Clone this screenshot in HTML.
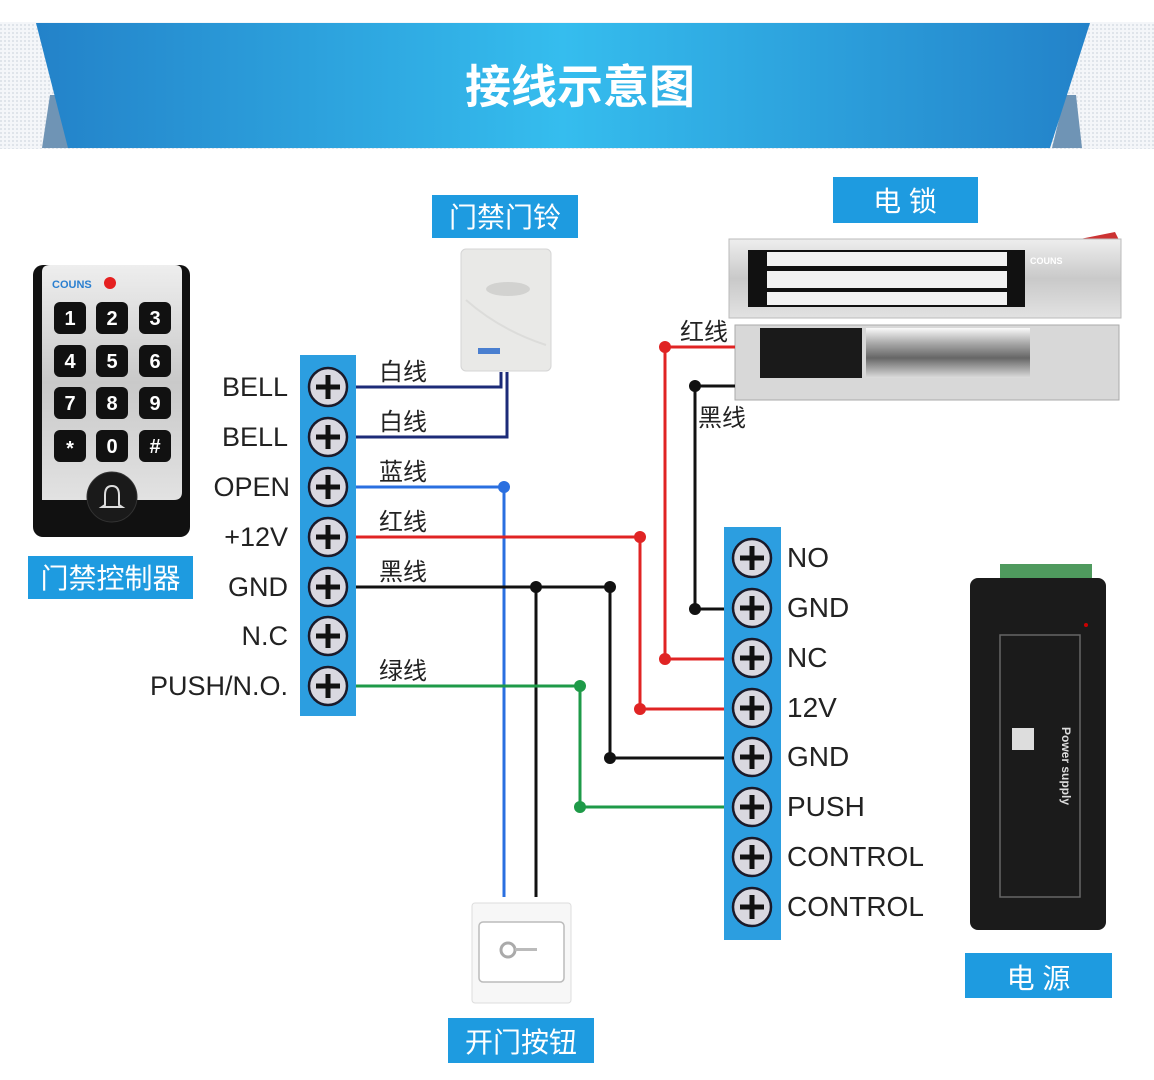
<!DOCTYPE html>
<html><head><meta charset="utf-8"><style>
html,body{margin:0;padding:0;background:#fff}
svg{display:block}
text{font-family:"Liberation Sans","Noto Sans CJK SC",sans-serif}
.cn{font-family:"Liberation Sans","Noto Sans CJK SC",sans-serif}
</style></head><body>
<svg width="1154" height="1080" viewBox="0 0 1154 1080" xmlns="http://www.w3.org/2000/svg">
<defs>
<pattern id="dots" width="4" height="4" patternUnits="userSpaceOnUse"><rect width="4" height="4" fill="#f4f6f9"/><rect width="2" height="2" fill="#dfe4ea"/></pattern>
<linearGradient id="rib" x1="0" x2="1" y1="0" y2="0">
<stop offset="0" stop-color="#2382c9"/><stop offset="0.5" stop-color="#35bdee"/><stop offset="1" stop-color="#2382c9"/></linearGradient>
<linearGradient id="silver" x1="0" x2="0" y1="0" y2="1"><stop offset="0" stop-color="#eeeeee"/><stop offset="0.5" stop-color="#c9c9c9"/><stop offset="1" stop-color="#e2e2e2"/></linearGradient>
<linearGradient id="chrome" x1="0" x2="0" y1="0" y2="1"><stop offset="0" stop-color="#fafafa"/><stop offset="0.3" stop-color="#aaa"/><stop offset="0.6" stop-color="#666"/><stop offset="1" stop-color="#ddd"/></linearGradient>
<g id="scr"><circle r="19" fill="#d9d8e0" stroke="#1a1a2a" stroke-width="2.5"/><rect x="-12" y="-2.5" width="24" height="5" fill="#111"/><rect x="-2.5" y="-12" width="5" height="24" fill="#111"/></g>
</defs>
<!-- header -->
<rect x="0" y="22" width="1154" height="127" fill="url(#dots)"/>
<polygon points="50,95 62,95 70,148 42,148" fill="#6f94b5"/>
<polygon points="1065,95 1076,95 1082,148 1052,148" fill="#6f94b5"/>
<polygon points="36,23 1090,23 1050,148 68,148" fill="url(#rib)"/>
<text x="580" y="103" text-anchor="middle" font-size="46" font-weight="bold" fill="#fff" class="cn">接线示意图</text>

<!-- keypad -->
<rect x="33" y="265" width="157" height="272" rx="10" fill="#111"/>
<path d="M42,272 Q42,265 50,265 L175,265 Q182,265 182,272 L182,492 Q182,500 174,500 L42,500 Z" fill="url(#silver)"/>
<text x="52" y="288" font-size="11" font-weight="bold" fill="#2a7fd0">COUNS</text>
<circle cx="110" cy="283" r="6" fill="#e52020"/>
<g font-size="20" font-weight="bold" fill="#fff" text-anchor="middle">
<g fill="#111"><rect x="54" y="302" width="32" height="32" rx="6"/><rect x="96" y="302" width="32" height="32" rx="6"/><rect x="139" y="302" width="32" height="32" rx="6"/>
<rect x="54" y="345" width="32" height="32" rx="6"/><rect x="96" y="345" width="32" height="32" rx="6"/><rect x="139" y="345" width="32" height="32" rx="6"/>
<rect x="54" y="387" width="32" height="32" rx="6"/><rect x="96" y="387" width="32" height="32" rx="6"/><rect x="139" y="387" width="32" height="32" rx="6"/>
<rect x="54" y="430" width="32" height="32" rx="6"/><rect x="96" y="430" width="32" height="32" rx="6"/><rect x="139" y="430" width="32" height="32" rx="6"/></g>
<text x="70" y="325">1</text><text x="112" y="325">2</text><text x="155" y="325">3</text>
<text x="70" y="368">4</text><text x="112" y="368">5</text><text x="155" y="368">6</text>
<text x="70" y="410">7</text><text x="112" y="410">8</text><text x="155" y="410">9</text>
<text x="70" y="455">*</text><text x="112" y="453">0</text><text x="155" y="453">#</text>
</g>
<circle cx="112" cy="497" r="25" fill="#1a1a1a" stroke="#333"/>
<path d="M105,505 L105,495 Q105,486 112,486 Q119,486 119,495 L119,505 L122,507 L102,507 Z" fill="none" stroke="#ddd" stroke-width="2"/>
<rect x="28" y="556" width="165" height="43" fill="#1e9be0"/>
<text x="110.5" y="588" text-anchor="middle" font-size="28" fill="#fff" class="cn">门禁控制器</text>

<!-- bell -->
<rect x="432" y="195" width="146" height="43" fill="#1e9be0"/>
<text x="505" y="227" text-anchor="middle" font-size="28" fill="#fff" class="cn">门禁门铃</text>
<rect x="461" y="249" width="90" height="122" rx="5" fill="#e9e9e7" stroke="#d5d5d5"/>
<ellipse cx="508" cy="289" rx="22" ry="7" fill="#d2d2d0"/>
<path d="M466,300 Q500,330 546,345" fill="none" stroke="#dcdcda" stroke-width="2"/>
<rect x="478" y="348" width="22" height="6" fill="#4a7fd0"/>

<!-- lock -->
<rect x="833" y="177" width="145" height="46" fill="#1e9be0"/>
<text x="905" y="211" text-anchor="middle" font-size="28" fill="#fff" class="cn">电 锁</text>
<path d="M1075,240 L1115,232 L1120,242 L1080,246Z" fill="#c33"/>
<rect x="729" y="239" width="392" height="79" fill="url(#silver)" stroke="#bbb"/>
<rect x="748" y="250" width="277" height="57" fill="#111"/>
<rect x="767" y="252" width="240" height="14" fill="#f2f2f2"/>
<rect x="767" y="271" width="240" height="17" fill="#f2f2f2"/>
<rect x="767" y="292" width="240" height="13" fill="#f2f2f2"/>
<text x="1030" y="264" font-size="9" font-weight="bold" fill="#fff">COUNS</text>
<rect x="735" y="325" width="384" height="75" fill="#d8d8d8" stroke="#aaa"/>
<rect x="760" y="328" width="102" height="50" fill="#1a1a1a"/>
<rect x="866" y="328" width="164" height="50" fill="url(#chrome)"/>

<!-- power -->
<rect x="1000" y="564" width="92" height="20" fill="#4f9a5e"/>
<rect x="970" y="578" width="136" height="352" rx="8" fill="#1b1b1b"/>
<rect x="1000" y="635" width="80" height="262" fill="none" stroke="#666" stroke-width="1.5"/>
<text transform="translate(1062,727) rotate(90)" font-size="12" font-weight="bold" fill="#ddd">Power supply</text>
<rect x="1012" y="728" width="22" height="22" fill="#ddd"/>
<circle cx="1086" cy="625" r="2" fill="#c00"/>
<rect x="965" y="953" width="147" height="45" fill="#1e9be0"/>
<text x="1038.5" y="988" text-anchor="middle" font-size="28" fill="#fff" class="cn">电 源</text>

<!-- button -->
<rect x="472" y="903" width="99" height="100" rx="3" fill="#f7f7f7" stroke="#ddd"/>
<rect x="479" y="922" width="85" height="60" rx="4" fill="#fff" stroke="#bbb" stroke-width="1.5"/>
<circle cx="508" cy="950" r="7" fill="none" stroke="#aaa" stroke-width="3"/>
<rect x="515" y="948" width="22" height="3" fill="#bbb"/>
<rect x="448" y="1018" width="146" height="45" fill="#1e9be0"/>
<text x="521" y="1052" text-anchor="middle" font-size="28" fill="#fff" class="cn">开门按钮</text>

<!-- wires -->
<g fill="none" stroke-width="3">
<path d="M356,387 H501 V372" stroke="#1c2b78"/>
<path d="M356,437 H507 V372" stroke="#1c2b78"/>
<path d="M356,487 H504 V897" stroke="#2a6fe0"/>
<path d="M356,537 H640 V709 H724" stroke="#e02424"/>
<path d="M665,347 H735 M665,347 V659 H724" stroke="#e02424"/>
<path d="M695,386 H735 M695,386 V609 H724" stroke="#111"/>
<path d="M356,587 H610 V758 H724 M536,587 V897" stroke="#111"/>
<path d="M356,686 H580 V807 H724" stroke="#1e9a48"/>
</g>
<g>
<circle cx="504" cy="487" r="6" fill="#2a6fe0"/>
<circle cx="640" cy="537" r="6" fill="#e02424"/><circle cx="640" cy="709" r="6" fill="#e02424"/>
<circle cx="665" cy="347" r="6" fill="#e02424"/><circle cx="665" cy="659" r="6" fill="#e02424"/>
<circle cx="695" cy="386" r="6" fill="#111"/><circle cx="695" cy="609" r="6" fill="#111"/>
<circle cx="536" cy="587" r="6" fill="#111"/><circle cx="610" cy="587" r="6" fill="#111"/><circle cx="610" cy="758" r="6" fill="#111"/>
<circle cx="580" cy="686" r="6" fill="#1e9a48"/><circle cx="580" cy="807" r="6" fill="#1e9a48"/>
</g>
<g font-size="24" fill="#222" class="cn">
<text x="379" y="380">白线</text><text x="379" y="430">白线</text><text x="379" y="480">蓝线</text>
<text x="379" y="530">红线</text><text x="379" y="580">黑线</text><text x="379" y="679">绿线</text>
<text x="680" y="340">红线</text><text x="698" y="426">黑线</text>
</g>

<!-- terminal blocks -->
<rect x="300" y="355" width="56" height="361" fill="#2c9ee0"/>
<use href="#scr" x="328" y="387"/><use href="#scr" x="328" y="437"/><use href="#scr" x="328" y="487"/><use href="#scr" x="328" y="537"/><use href="#scr" x="328" y="587"/><use href="#scr" x="328" y="636"/><use href="#scr" x="328" y="686"/>
<rect x="724" y="527" width="57" height="413" fill="#2c9ee0"/>
<use href="#scr" x="752" y="558"/><use href="#scr" x="752" y="608"/><use href="#scr" x="752" y="658"/><use href="#scr" x="752" y="708"/><use href="#scr" x="752" y="757"/><use href="#scr" x="752" y="807"/><use href="#scr" x="752" y="857"/><use href="#scr" x="752" y="907"/>
<g font-size="27" fill="#222" text-anchor="end">
<text x="288" y="396">BELL</text><text x="288" y="446">BELL</text><text x="290" y="496">OPEN</text><text x="288" y="546">+12V</text><text x="288" y="596">GND</text><text x="288" y="645">N.C</text><text x="288" y="695">PUSH/N.O.</text>
</g>
<g font-size="28" fill="#222">
<text x="787" y="567">NO</text><text x="787" y="617">GND</text><text x="787" y="667">NC</text><text x="787" y="717">12V</text><text x="787" y="766">GND</text><text x="787" y="816">PUSH</text><text x="787" y="866">CONTROL</text><text x="787" y="916">CONTROL</text>
</g>
</svg>
</body></html>
